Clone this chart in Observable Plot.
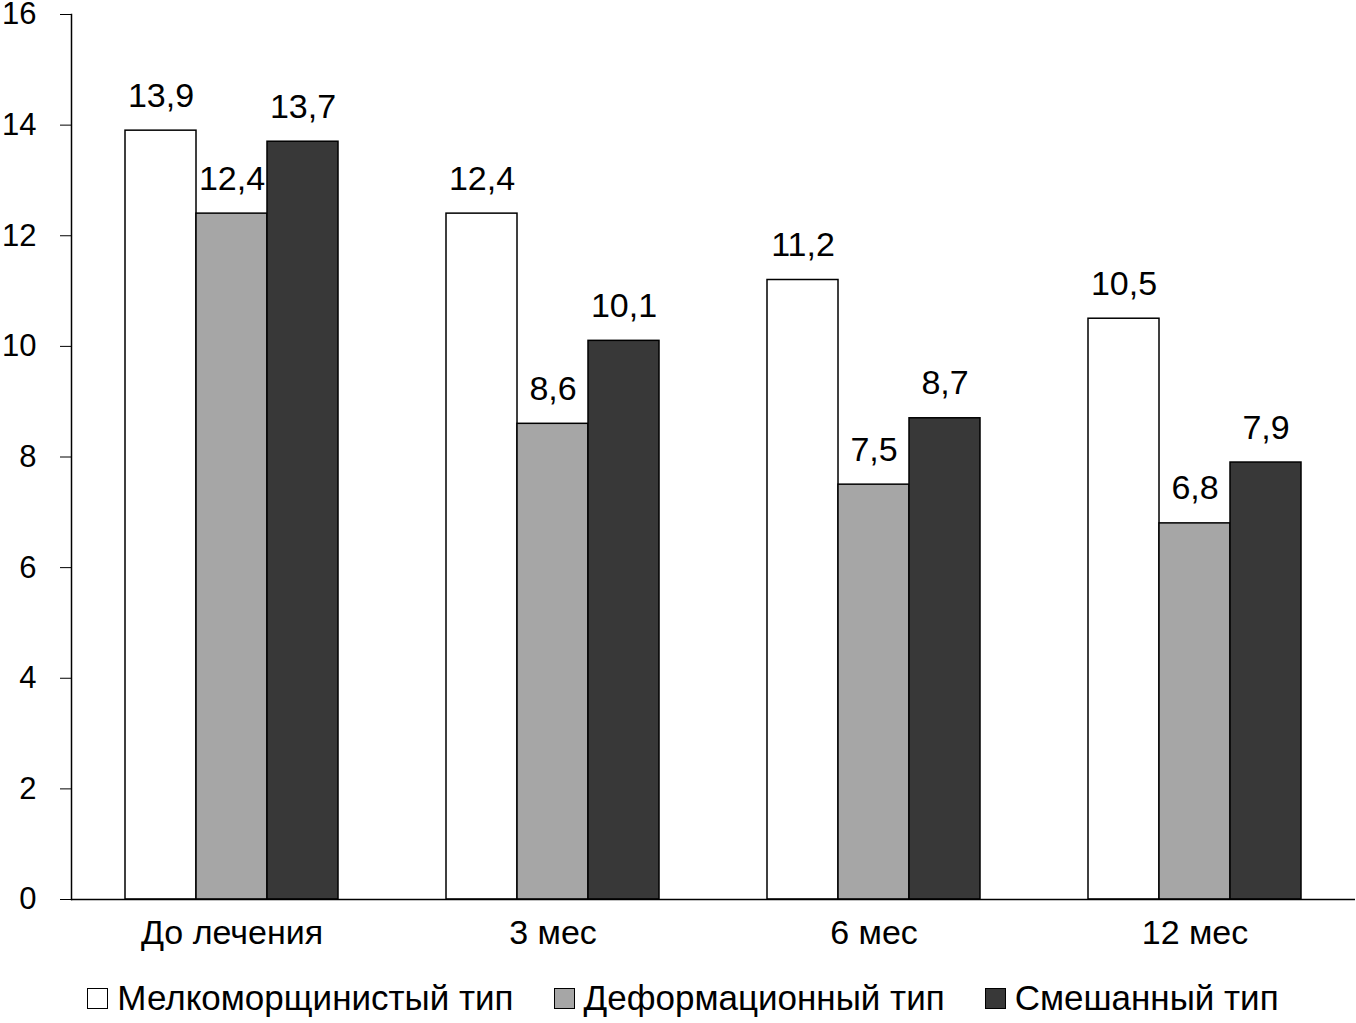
<!DOCTYPE html>
<html>
<head>
<meta charset="utf-8">
<script src="https://cdn.jsdelivr.net/npm/d3@7"></script>
<script src="https://cdn.jsdelivr.net/npm/@observablehq/plot@0.6"></script>
<style>
  body { margin: 0; background: #fff; font-family: "Liberation Sans", Arial, sans-serif; }
  #legend { display: flex; justify-content: center; align-items: center; gap: 40px; font-size: 35px; color: #000; margin-top: 13px; padding-left: 10px; }
  .item { display: flex; align-items: center; gap: 9px; }
  .sw { width: 21px; height: 21px; border: 1.5px solid #000; box-sizing: border-box; }
</style>
</head>
<body>
<div id="chart"></div>
<div id="legend"></div>
<script>
const categories = ["До лечения", "3 мес", "6 мес", "12 мес"];
const series = ["Мелкоморщинистый тип", "Деформационный тип", "Смешанный тип"];
const melko = [13.9, 12.4, 11.2, 10.5];
const deform = [12.4, 8.6, 7.5, 6.8];
const mixed = [13.7, 10.1, 8.7, 7.9];
const colors = ["#ffffff", "#a6a6a6", "#383838"];
const yTicks = [0, 2, 4, 6, 8, 10, 12, 14, 16];

const seriesValues = [melko, deform, mixed];
const data = [];
categories.forEach((c, i) => {
  series.forEach((s, j) => data.push({cat: c, series: s, value: seriesValues[j][i]}));
});
const fmt = v => v.toFixed(1).replace(".", ",");

const chart = Plot.plot({
  width: 1356,
  height: 965,
  marginTop: 14,
  marginBottom: 66,
  marginLeft: 69,
  marginRight: 0,
  style: {fontFamily: "'Liberation Sans', Arial, sans-serif", fontSize: "34px", color: "#000", background: "#fff", overflow: "visible"},
  fx: {domain: categories, paddingInner: 0, paddingOuter: 0, label: null, axis: "bottom", tickSize: 0, tickPadding: 20},
  x: {domain: series, paddingInner: 0, paddingOuter: 0.734, axis: null},
  y: {domain: [0, 16], label: null},
  color: {domain: series, range: colors},
  marks: [
    Plot.axisY({ticks: yTicks, tickSize: 11, tickPadding: 24, fontSize: 31, label: null, tickFormat: d => String(d)}),
    Plot.barY(data, {fx: "cat", x: "series", y: "value", fill: "series", stroke: "#000", strokeWidth: 1.5}),
    Plot.text(data, {fx: "cat", x: "series", y: "value", text: d => fmt(d.value), lineAnchor: "bottom", dy: -24, fontSize: 34, fill: "#000"}),
    Plot.ruleY([0], {stroke: "#000", strokeWidth: 1.5}),
    Plot.frame({anchor: "left", facet: "super", stroke: "#000", strokeWidth: 1.5})
  ]
});
document.getElementById("chart").appendChild(chart);

const legend = document.getElementById("legend");
series.forEach((s, j) => {
  const item = document.createElement("div");
  item.className = "item";
  const sw = document.createElement("div");
  sw.className = "sw";
  sw.style.background = colors[j];
  const t = document.createElement("span");
  t.textContent = s;
  item.appendChild(sw);
  item.appendChild(t);
  legend.appendChild(item);
});
</script>
</body>
</html>
